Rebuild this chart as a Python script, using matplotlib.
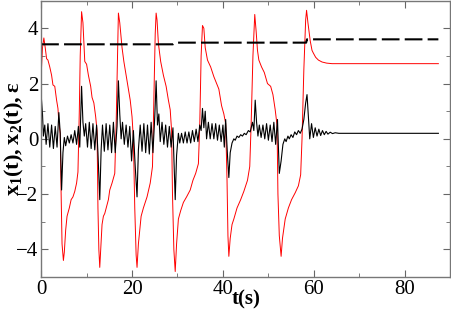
import matplotlib
matplotlib.use('Agg')
import matplotlib.pyplot as plt
from matplotlib.ticker import MultipleLocator

# fonts: Times-like serif, bold labels
plt.rcParams['font.family'] = ['Liberation Serif', 'DejaVu Serif']
plt.rcParams['mathtext.fontset'] = 'custom'
plt.rcParams['mathtext.rm'] = 'Liberation Serif'
plt.rcParams['mathtext.bf'] = 'Liberation Serif:bold'
plt.rcParams['mathtext.default'] = 'bf'

# x1(t) - red relaxation oscillation
x1_t = [0.0, 0.3, 0.6, 0.9, 1.2, 1.5, 1.9, 2.3, 2.6, 3.0, 3.4, 3.7, 3.9, 4.2, 4.4, 4.6, 4.9, 5.1,
        5.4, 5.7, 6.2, 6.6, 7.0, 7.4, 7.8, 8.1, 8.4, 8.6, 8.9,
        9.2, 9.6, 10.0, 10.4, 10.9, 11.2, 11.6, 12.0, 12.3, 12.5, 12.7, 12.9, 13.1, 13.4, 13.7,
        14.0, 14.4, 14.8, 15.1, 15.6, 16.2, 16.5, 16.8, 17.0,
        17.3, 17.8, 18.2, 18.7, 19.1, 19.6, 20.0, 20.3, 20.6, 20.9, 21.1, 21.4, 22.0, 22.5,
        23.3, 24.0, 24.5, 24.8, 25.1, 25.3,
        25.5, 25.8, 26.3, 26.9, 27.5, 28.0, 28.4, 28.7, 28.9, 29.2, 29.5, 29.8, 30.2, 30.7,
        31.3, 32.0, 32.8, 33.4, 34.0, 34.6, 34.9, 35.2, 35.5,
        35.8, 36.1, 36.6, 37.3, 38.0, 38.6, 39.1, 39.7, 40.2, 40.6, 40.9, 41.1, 41.3, 41.6,
        42.0, 42.4, 43.1, 43.9, 44.6, 45.4, 45.9, 46.2, 46.6, 47.0,
        47.3, 47.6, 47.9, 48.5, 49.1, 49.8, 50.5, 51.0, 51.5, 51.9, 52.1, 52.4, 52.8, 53.1,
        53.7, 54.4, 55.1, 55.9, 56.6, 57.1, 57.4, 57.8, 58.2, 58.4,
        58.7, 59.2, 59.6, 59.9, 60.4, 61.0, 61.8, 62.8, 64.0, 87.4]
x1_v = [2.3, 3.3, 3.65, 3.3, 2.9, 2.85, 2.6, 2.3, 1.95, 1.9, 1.4, 1.1, 0.6, 0.2, -2.0, -3.8, -4.4, -4.1,
        -3.3, -2.8, -2.5, -2.2, -2.1, -1.9, -1.6, -1.2, 1.0, 3.0, 4.6,
        4.2, 2.8, 2.7, 2.3, 1.9, 1.5, 1.3, 0.8, 0.3, -2.5, -4.0, -4.65, -4.0, -3.1, -2.8,
        -2.7, -2.45, -2.2, -1.85, -1.6, -1.25, 0.5, 3.0, 4.55,
        4.2, 3.3, 2.8, 2.3, 1.9, 1.4, 0.8, 0.0, -2.5, -4.2, -4.65, -3.8, -2.8, -2.5,
        -2.1, -1.6, -1.0, 1.5, 3.8, 4.55,
        4.3, 3.45, 2.8, 2.3, 1.9, 1.4, 1.05, 0.3, -2.0, -4.0, -4.8, -3.8, -2.9, -2.6,
        -2.3, -2.1, -1.85, -1.5, -1.25, -0.9, 0.5, 3.0, 4.1,
        4.0, 3.3, 2.85, 2.6, 2.25, 2.0, 1.8, 1.2, 0.9, 0.55, -1.5, -3.5, -4.25, -3.6,
        -3.1, -2.9, -2.5, -2.2, -1.9, -1.5, -1.0, 0.5, 3.0, 4.5,
        3.9, 3.2, 2.85, 2.6, 2.4, 2.0, 1.9, 1.6, 1.05, 0.5, -2.0, -3.5, -4.25, -3.6,
        -2.9, -2.5, -2.2, -1.95, -1.7, -1.3, 0.0, 2.5, 4.3, 4.65,
        4.2, 3.55, 3.2, 3.1, 2.95, 2.85, 2.78, 2.74, 2.72, 2.72]

# x2(t) - black fast oscillation
x2_t = [0.0, 0.3, 0.5, 0.8, 1.1, 1.5, 1.9, 2.3, 2.7, 3.1, 3.5, 3.9, 4.2, 4.5, 4.8, 5.1, 5.4, 5.8,
        6.2, 6.6, 7.0, 7.4, 7.8, 8.2, 8.5, 8.9, 9.2, 9.5, 9.8, 10.2, 10.6, 11.0, 11.4, 11.8,
        12.2, 12.5, 12.9, 13.2, 13.5, 13.9, 14.3, 14.7, 15.1, 15.5, 15.9, 16.3, 16.7, 17.0,
        17.3, 17.6, 17.9, 18.3, 18.7, 19.1, 19.5, 19.9, 20.3, 20.7, 21.1, 21.4, 21.8, 22.2,
        22.6, 23.0, 23.4, 23.8, 24.2, 24.6, 25.0, 25.3, 25.6, 25.9, 26.2, 26.6, 27.0, 27.4,
        27.8, 28.2, 28.6, 29.0, 29.5, 29.8, 30.2, 30.5, 30.9, 31.3, 31.7, 32.1, 32.5, 32.9,
        33.3, 33.7, 34.1, 34.5, 34.9, 35.2, 35.5, 35.8, 36.1, 36.4, 36.8, 37.2, 37.6, 38.0,
        38.4, 38.8, 39.2, 39.6, 40.0, 40.3, 40.6, 41.0, 41.3, 41.6, 42.0, 42.4, 42.7, 43.1,
        43.5, 43.9, 44.3, 44.7, 45.1, 45.6, 46.0, 46.5, 46.8, 47.1, 47.4, 47.7, 48.0, 48.4,
        48.8, 49.2, 49.6, 50.0, 50.4, 50.8, 51.2, 51.6, 52.0, 52.4, 52.8, 53.2, 53.6, 53.9,
        54.3, 54.6, 55.0, 55.4, 55.8, 56.2, 56.6, 57.0, 57.4, 57.8, 58.2, 58.5, 58.8, 59.1,
        59.5, 59.9, 60.3, 60.7, 61.1, 61.5, 61.9, 62.3, 62.7, 63.1, 63.6, 64.1, 64.7, 65.5, 87.4]
x2_v = [1.6, 0.9, 0.1, 0.5, -0.2, 0.55, -0.3, 0.5, -0.35, 0.45, -0.3, 0.95, 0.2, -1.85, -0.5, 0.05, -0.25, 0.1,
        -0.15, 0.15, -0.15, 0.3, -0.2, 0.45, -0.3, 1.9, 0.6, 0.1, 0.55, -0.3, 0.6, -0.35, 0.55, -0.4,
        0.5, -0.5, -2.2, -0.4, 0.5, -0.45, 0.55, -0.4, 0.5, -0.5, 0.6, -0.5, 0.45, 2.1,
        0.9, 0.0, 0.6, -0.2, 0.5, -0.3, 0.45, -0.8, 0.3, -1.0, -2.1, -0.4, 0.5, -0.45,
        0.55, -0.5, 0.5, -0.55, 0.6, -0.5, 0.8, 2.1, 0.5, 0.9, -0.1, 0.6, -0.2, 0.5,
        -0.3, 0.45, -0.3, 0.4, -2.2, -0.6, 0.2, -0.15, 0.2, -0.15, 0.25, -0.15, 0.25, -0.15,
        0.3, -0.1, 0.35, -0.1, 0.5, 0.3, 1.1, 0.4, 1.0, 0.0, 0.6, 0.0, 0.55, 0.0,
        0.55, -0.05, 0.5, -0.1, 0.5, -0.3, 0.7, -0.6, -1.4, -0.5, -0.15, 0.0, -0.05, 0.1,
        0.05, 0.15, 0.1, 0.2, 0.15, 0.3, 0.25, 0.6, 0.3, 1.4, 0.6, 0.1, 0.5, 0.05,
        0.5, 0.0, 0.55, -0.05, 0.5, -0.1, 0.6, -0.2, 0.7, -1.25, -0.8, -0.2, 0.0, -0.1,
        0.1, 0.0, 0.15, 0.05, 0.25, 0.15, 0.3, 0.2, 0.35, 0.7, 1.3, 1.6, 0.8, 0.0,
        0.55, 0.05, 0.4, 0.1, 0.35, 0.12, 0.3, 0.15, 0.27, 0.17, 0.24, 0.19, 0.22, 0.2, 0.2]

# epsilon - dashed control level
eps_t = [0.0, 29.0, 29.5, 58.3, 58.5, 87.4]
eps_v = [3.42, 3.42, 3.48, 3.48, 3.6, 3.6]

fig = plt.figure(figsize=(4.52, 3.17), dpi=100)
ax = fig.add_axes([0.091, 0.126, 0.905, 0.872])

ax.plot(x1_t, x1_v, color='red', lw=0.7)
ax.plot(x2_t, x2_v, color='black', lw=0.8)
ax.plot(eps_t, eps_v, color='black', lw=1.5, dashes=(8.5, 2.5))

ax.set_xlim(0, 90)
ax.set_ylim(-5, 5)
ax.xaxis.set_major_locator(MultipleLocator(20))
ax.xaxis.set_minor_locator(MultipleLocator(10))
ax.yaxis.set_major_locator(MultipleLocator(2))
ax.yaxis.set_minor_locator(MultipleLocator(1))
ax.tick_params(which='both', direction='in', top=True, right=True, colors='#666666',
               labelcolor='black', labelsize=15, pad=2)
ax.tick_params(which='major', length=5)
ax.tick_params(which='minor', length=3)
for s in ax.spines.values():
    s.set_color('#777777')
    s.set_linewidth(1.0)

ax.set_xlabel('t(s)', fontsize=15, fontweight='bold')
ax.xaxis.set_label_coords(0.5, -0.045)
ax.set_ylabel(r'$x_1(t), x_2(t), \epsilon$', fontsize=16)
ax.yaxis.set_label_coords(-0.038, 0.5)

fig.savefig('out.png', dpi=100)
